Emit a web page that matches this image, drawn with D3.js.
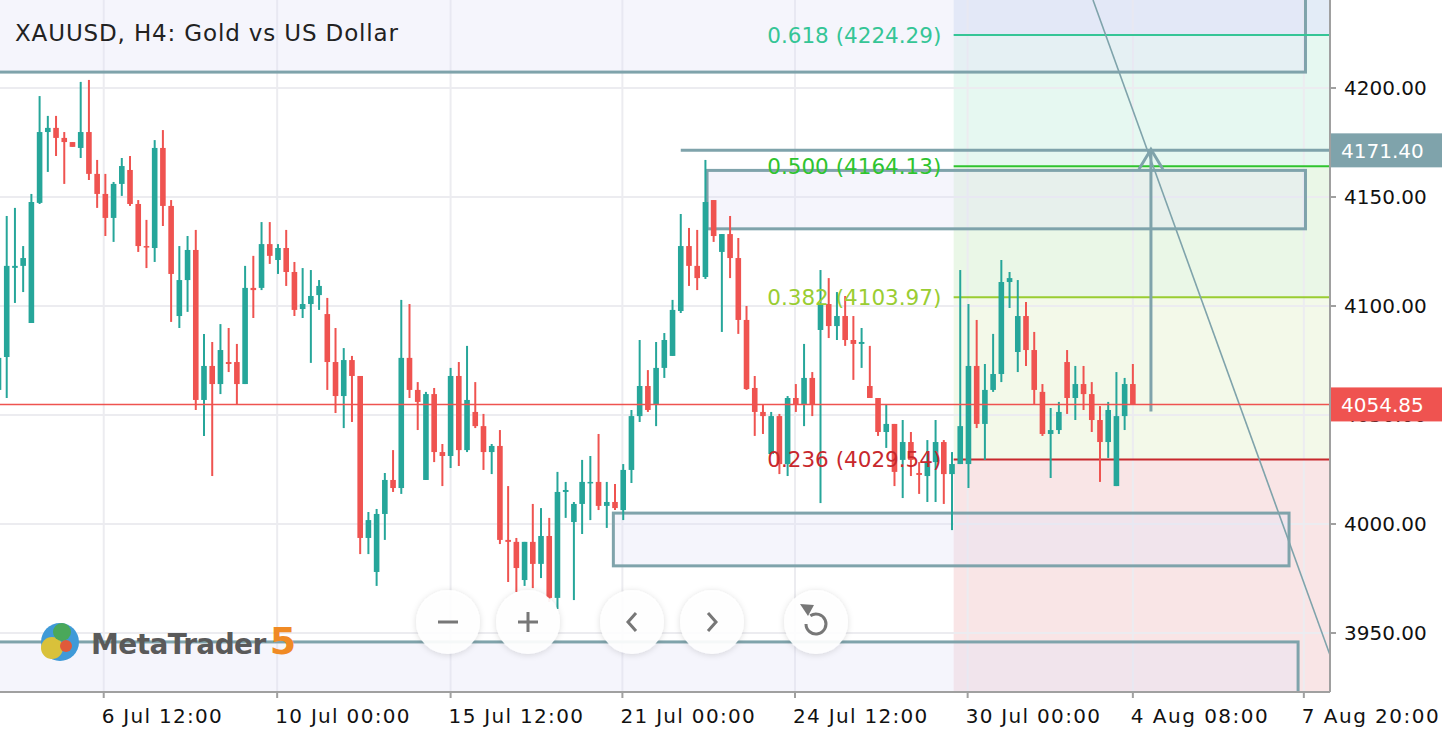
<!DOCTYPE html>
<html><head><meta charset="utf-8">
<script src="https://cdn.jsdelivr.net/npm/d3@7/dist/d3.min.js"></script>
<style>body{margin:0;background:#fff;overflow:hidden}svg{display:block}text{font-family:"DejaVu Sans",sans-serif}</style>
</head><body><svg id="c" width="1442" height="740"></svg>
<script>
// OHLC rows: [open, high, low, close]
const candles = [
[4061.5,4079.8,4057.8,4076.2],[4076.6,4141.3,4057.8,4118.4],[4117.5,4145.0,4101.4,4118.4],[4118.4,4127.5,4106.4,4122.0],
[4092.2,4151.4,4092.2,4147.7],[4147.3,4196.3,4146.8,4179.8],[4179.8,4187.2,4161.5,4181.7],[4181.7,4187.2,4168.8,4177.1],
[4177.1,4179.8,4156.0,4175.2],[4175.2,4175.2,4173.0,4173.0],[4172.5,4202.8,4167.9,4179.8],[4179.8,4203.7,4157.8,4160.6],
[4160.6,4167.0,4145.0,4151.4],[4151.4,4160.6,4132.1,4140.4],[4140.4,4156.9,4129.4,4156.0],[4156.0,4167.9,4150.5,4164.2],
[4162.4,4168.8,4145.9,4146.8],[4146.8,4148.6,4124.8,4127.5],[4127.5,4139.5,4117.4,4127.1],[4126.6,4176.1,4120.2,4172.5],
[4172.5,4180.7,4136.7,4145.9],[4145.9,4148.6,4092.7,4114.7],[4095.4,4127.5,4089.9,4111.9],[4111.9,4132.1,4097.3,4125.7],
[4125.7,4134.9,4052.3,4056.9],[4056.9,4087.2,4040.4,4072.5],[4072.5,4083.5,4022.0,4064.2],[4064.2,4091.7,4059.6,4079.8],
[4074.3,4089.9,4069.7,4073.4],[4074.3,4082.6,4055.0,4064.2],[4064.2,4118.4,4064.2,4108.3],[4108.3,4123.0,4094.5,4107.3],
[4108.3,4138.5,4107.3,4128.4],[4128.4,4138.5,4119.3,4123.0],[4121.1,4128.4,4114.7,4126.6],[4126.6,4134.9,4109.2,4115.6],
[4115.6,4120.2,4095.4,4098.2],[4098.6,4117.4,4094.5,4100.9],[4100.9,4116.5,4073.9,4104.6],[4105.0,4111.9,4098.2,4109.2],
[4096.3,4103.7,4061.5,4074.3],[4074.3,4089.9,4050.9,4058.7],[4058.7,4080.7,4044.0,4075.2],[4075.2,4077.1,4046.8,4067.9],
[4067.9,4067.9,3986.2,3993.6],[3993.6,4005.5,3986.2,4001.8],[3978.0,4006.9,3971.6,4004.6],[4004.6,4023.4,3992.7,4020.2],
[4020.2,4033.9,4014.7,4016.5],[4016.5,4102.8,4013.8,4076.2],[4076.2,4100.9,4057.8,4061.5],[4061.5,4065.1,4043.1,4056.0],
[4020.2,4060.6,4020.2,4059.6],[4059.6,4062.4,4028.4,4033.0],[4033.0,4036.7,4017.4,4031.2],[4031.2,4071.6,4025.7,4067.9],
[4067.9,4074.3,4026.6,4033.9],[4033.9,4081.7,4033.0,4056.9],[4051.4,4065.1,4044.0,4044.9],[4044.9,4050.5,4024.8,4033.0],
[4033.0,4036.7,4022.9,4035.8],[4035.8,4043.1,3990.8,3992.7],[3992.7,4017.4,3973.4,3991.8],[3991.8,3993.6,3968.8,3979.8],
[3974.3,3991.8,3971.6,3991.8],[3991.8,4009.2,3970.6,3981.7],[3981.7,4007.3,3975.2,3994.5],[3994.5,4002.8,3964.2,3966.1],
[3966.1,4023.9,3961.0,4014.7],[4014.7,4019.3,4002.8,4015.6],[4000.9,4010.1,3965.1,4009.2],[4009.2,4029.4,3995.4,4019.3],
[4018.8,4031.2,4001.8,4019.3],[4019.3,4041.3,4006.4,4008.3],[4008.3,4019.3,3998.2,4010.1],[4010.1,4018.4,4006.4,4007.3],
[4006.4,4027.5,4001.8,4024.8],[4024.8,4052.3,4018.8,4049.5],[4049.5,4084.4,4046.8,4063.3],[4063.3,4070.6,4051.4,4052.3],
[4055.0,4083.5,4044.9,4071.6],[4071.6,4087.6,4067.0,4084.4],[4077.1,4102.8,4077.1,4098.2],[4097.7,4142.2,4096.8,4127.5],
[4127.5,4135.8,4109.2,4118.4],[4118.4,4134.9,4107.3,4112.8],[4113.3,4167.0,4112.4,4147.7],[4148.6,4148.6,4129.4,4132.1],
[4124.8,4133.0,4088.1,4133.0],[4133.0,4141.3,4112.8,4122.0],[4122.0,4131.2,4087.2,4093.6],[4093.6,4100.0,4061.5,4061.9],
[4062.4,4067.9,4040.4,4051.4],[4051.4,4055.0,4041.3,4049.5],[4032.1,4051.4,4032.1,4049.5],[4049.5,4050.5,4022.9,4027.5],
[4027.5,4058.7,4022.0,4057.8],[4057.8,4064.2,4051.4,4055.0],[4055.0,4082.6,4044.9,4067.0],[4067.0,4069.7,4049.5,4055.0],
[4089.0,4116.5,4009.6,4100.9],[4100.9,4112.8,4085.3,4090.8],[4090.8,4106.4,4084.4,4095.4],[4095.4,4104.6,4081.7,4084.4],
[4084.4,4095.4,4066.1,4082.6],[4082.6,4089.9,4071.6,4083.5],[4063.3,4081.7,4057.8,4057.8],[4057.8,4057.8,4040.4,4042.2],
[4042.2,4055.0,4034.9,4045.9],[4045.9,4045.9,4017.4,4023.9],[4029.4,4047.7,4011.9,4037.6],[4037.6,4042.2,4022.0,4029.4],
[4023.4,4028.4,4013.8,4022.5],[4022.0,4038.5,4010.1,4028.4],[4028.4,4047.7,4010.1,4037.6],[4037.6,4038.5,4009.2,4022.9],
[4022.9,4033.0,3997.2,4027.5],[4027.5,4116.5,4027.5,4044.9],[4027.5,4100.9,4016.5,4072.5],[4072.5,4093.6,4044.0,4045.9],
[4045.9,4073.4,4029.4,4061.5],[4061.5,4087.2,4060.6,4068.8],[4068.8,4121.1,4065.1,4111.0],[4111.0,4115.6,4099.1,4112.8],
[4078.9,4111.9,4069.7,4095.4],[4095.4,4101.8,4072.5,4079.8],[4079.8,4088.1,4055.0,4061.5],[4060.6,4064.2,4040.4,4041.3],
[4041.3,4053.2,4021.1,4043.1],[4043.1,4056.0,4041.3,4051.4],[4074.3,4079.8,4050.5,4057.8],[4057.8,4072.5,4047.7,4064.2],
[4064.2,4072.5,4052.3,4059.6],[4059.6,4065.1,4042.2,4047.7],[4047.7,4054.1,4019.3,4037.6],[4037.6,4056.0,4030.3,4052.3],
[4017.4,4069.7,4017.4,4049.5],[4049.5,4067.0,4043.1,4064.2],[4064.2,4073.4,4054.85,4054.85]
];
const priceTicks = [3950, 4000, 4050, 4100, 4150, 4200];
const timeLabels = ["6 Jul 12:00","10 Jul 00:00","15 Jul 12:00","21 Jul 00:00","24 Jul 12:00","30 Jul 00:00","4 Aug 08:00","7 Aug 20:00"];
const timeTickIdx = [12.8, 33.9, 55, 75.9, 96.9, 117.9, 138, 158.8];
const fibLevels = [
 {r:"0.618", p:4224.29, c:"#35c596"},
 {r:"0.500", p:4164.13, c:"#2fc42f"},
 {r:"0.382", p:4103.97, c:"#9acd32"},
 {r:"0.236", p:4029.54, c:"#c8282d"}
];
const currentPrice = 4054.85;
const markerPrice = 4171.40;
// rectangles: [startIdx, endIdx, priceTop, priceBottom]
const boxes = [[-20,159.0,4260,4207.3],[86.2,159.0,4162.2,4135.4],[74.8,157.0,4005.0,3980.8],[-20,158.1,3945.9,3900]];

const svg = d3.select("#c");
const W = 1330, H = 692;
const x = d3.scaleLinear().domain([0, 1]).range([-1.5, 6.72]);
const y = d3.scaleLinear().domain([4000, 4200]).range([524, 88]);
const green = "#26a69a", red = "#ef5350", line = "#7fa3ab";

const defs = svg.append("defs");
defs.append("clipPath").attr("id","pa").append("rect").attr("width",W).attr("height",H);
const f = defs.append("filter").attr("id","sh").attr("x","-50%").attr("y","-50%").attr("width","200%").attr("height","200%");
f.append("feDropShadow").attr("dx",0).attr("dy",1).attr("stdDeviation",3).attr("flood-color","#000").attr("flood-opacity",0.15);

const g = svg.append("g").attr("clip-path","url(#pa)");
const fx0 = x(116.2);
const zones = [[4300,4224.29,"#e3ecf7"],[4224.29,4164.13,"#e6f8f1"],[4164.13,4103.97,"#eaf7e7"],[4103.97,4029.54,"#f3f9e9"],[4029.54,3850,"#f9e5e6"]];
zones.forEach(z=>g.append("rect").attr("x",fx0).attr("width",W-fx0).attr("y",y(z[0])).attr("height",y(z[1])-y(z[0])).attr("fill",z[2]));
priceTicks.forEach(p=>g.append("line").attr("x1",0).attr("x2",W).attr("y1",y(p)).attr("y2",y(p)).attr("stroke","#ececf0").attr("stroke-width",2));
timeTickIdx.forEach(t=>g.append("line").attr("x1",x(t)).attr("x2",x(t)).attr("y1",0).attr("y2",H).attr("stroke","#ececf0").attr("stroke-width",2));
boxes.forEach(b=>g.append("rect").attr("x",x(b[0])).attr("y",y(b[2])).attr("width",x(b[1])-x(b[0])).attr("height",y(b[3])-y(b[2]))
  .attr("fill","rgba(225,225,245,0.35)").attr("stroke",line).attr("stroke-width",3));
fibLevels.forEach(l=>{
  g.append("line").attr("x1",fx0).attr("x2",W).attr("y1",y(l.p)).attr("y2",y(l.p)).attr("stroke",l.c).attr("stroke-width",2);
});
const cg = g.append("g");
candles.forEach((d,i)=>{
  const [o,h,l,c] = d; const col = c>=o?green:red;
  cg.append("line").attr("x1",x(i)).attr("x2",x(i)).attr("y1",y(h)).attr("y2",y(l)).attr("stroke",col).attr("stroke-width",2);
  const t=y(Math.max(o,c)), b=y(Math.min(o,c));
  cg.append("rect").attr("x",x(i)-2.8).attr("width",5.6).attr("y",t).attr("height",Math.max(b-t,1.5)).attr("fill",col);
});
fibLevels.forEach(l=>{
  g.append("text").attr("x",x(114.7)).attr("y",y(l.p)).attr("dy","0.35em").attr("text-anchor","end").attr("font-size",21.5).attr("fill",l.c).text(`${l.r} (${l.p.toFixed(2)})`);
});
g.append("line").attr("x1",1093).attr("y1",0).attr("x2",W).attr("y2",655).attr("stroke",line).attr("stroke-width",1.6);
g.append("line").attr("x1",x(83)).attr("x2",W).attr("y1",y(markerPrice)).attr("y2",y(markerPrice)).attr("stroke",line).attr("stroke-width",3);
const ax = x(140.2);
g.append("line").attr("x1",ax).attr("x2",ax).attr("y1",y(currentPrice)+7).attr("y2",y(markerPrice)).attr("stroke",line).attr("stroke-width",3);
g.append("path").attr("d",`M${ax-12},${y(markerPrice)+19}L${ax},${y(markerPrice)-1}L${ax+12},${y(markerPrice)+19}`).attr("fill","none").attr("stroke",line).attr("stroke-width",3);
g.append("line").attr("x1",0).attr("x2",W).attr("y1",y(currentPrice)).attr("y2",y(currentPrice)).attr("stroke",red).attr("stroke-width",1.5);

svg.append("line").attr("x1",W).attr("x2",W).attr("y1",0).attr("y2",H).attr("stroke","#a0a0a0").attr("stroke-width",2);
svg.append("line").attr("x1",0).attr("x2",W).attr("y1",H).attr("y2",H).attr("stroke","#a0a0a0").attr("stroke-width",2);
priceTicks.forEach(p=>{
  svg.append("line").attr("x1",W).attr("x2",W+6).attr("y1",y(p)).attr("y2",y(p)).attr("stroke","#a0a0a0").attr("stroke-width",2);
  svg.append("text").attr("x",1344).attr("y",y(p)).attr("dy","0.36em").attr("font-size",20).attr("fill","#111").text(p.toFixed(2));
});
timeTickIdx.forEach((t,i)=>{
  svg.append("line").attr("x1",x(t)).attr("x2",x(t)).attr("y1",H).attr("y2",H+6).attr("stroke","#a0a0a0").attr("stroke-width",2);
  const tx = svg.append("text").attr("x",x(t)-2).attr("y",723).attr("font-size",20).attr("fill","#111").text(timeLabels[i]);
  const L = tx.node().getComputedTextLength();
  tx.attr("textLength", L*1.12).attr("lengthAdjust","spacing");
});
function tag(p,col){
  svg.append("rect").attr("x",W+1).attr("y",y(p)-17).attr("width",112).attr("height",34).attr("fill",col);
  svg.append("text").attr("x",1341).attr("y",y(p)).attr("dy","0.36em").attr("font-size",20).attr("fill","#fff").text(p.toFixed(2));
}
tag(markerPrice,line); tag(currentPrice,red);

svg.append("text").attr("x",15).attr("y",41).attr("font-size",23).attr("fill","#222").attr("textLength",383).attr("lengthAdjust","spacing").text("XAUUSD, H4: Gold vs US Dollar");

const lg = svg.append("g").attr("transform","translate(60,642)");
lg.append("circle").attr("cx",0).attr("cy",0).attr("r",19).attr("fill","#3f9ad8");
lg.append("circle").attr("cx",-8).attr("cy",6).attr("r",11).attr("fill","#d9c13a");
lg.append("circle").attr("cx",2).attr("cy",-10).attr("r",9).attr("fill","#4aa85a");
lg.append("circle").attr("cx",6).attr("cy",4).attr("r",6).attr("fill","#e05a3a");
const logo = svg.append("text").attr("x",91).attr("y",654).attr("font-weight","bold");
logo.append("tspan").attr("font-size",28).attr("fill","#5a5a5a").attr("letter-spacing","-0.6").text("MetaTrader");
logo.append("tspan").attr("font-size",38).attr("dx",4).attr("fill","#f08a24").text("5");

const btns=[448,528,632,712,816];
btns.forEach(bx=>svg.append("circle").attr("cx",bx).attr("cy",622).attr("r",32).attr("fill","rgba(255,255,255,0.92)").attr("filter","url(#sh)"));
const ic="#777";
svg.append("line").attr("x1",438).attr("x2",458).attr("y1",622).attr("y2",622).attr("stroke",ic).attr("stroke-width",3);
svg.append("path").attr("d","M518,622H538M528,612V632").attr("stroke",ic).attr("stroke-width",3);
svg.append("path").attr("d","M636,613L628,622L636,631").attr("fill","none").attr("stroke",ic).attr("stroke-width",3);
svg.append("path").attr("d","M708,613L716,622L708,631").attr("fill","none").attr("stroke",ic).attr("stroke-width",3);
svg.append("path").attr("d",d3.arc()({innerRadius:10,outerRadius:10,startAngle:-0.6,endAngle:Math.PI*1.5})).attr("transform","translate(816,624)").attr("fill","none").attr("stroke",ic).attr("stroke-width",3);
svg.append("path").attr("d","M800,604L808,616L814,605Z").attr("fill",ic);
</script></body></html>
